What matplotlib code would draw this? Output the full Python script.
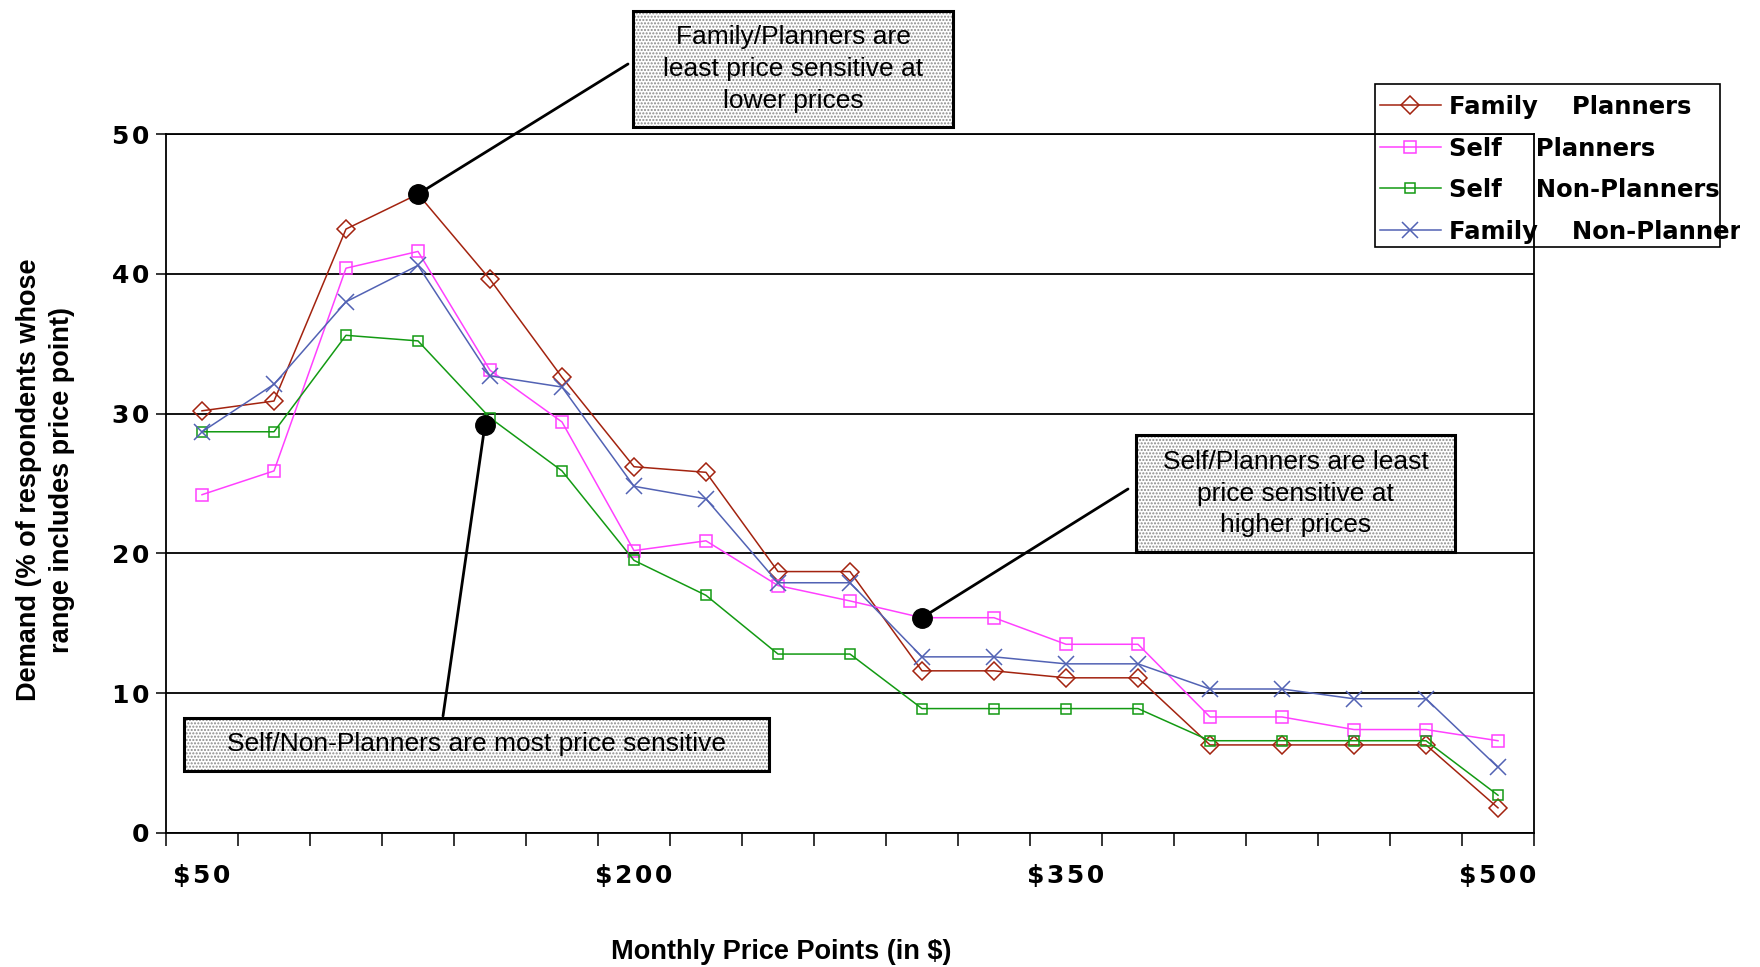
import matplotlib
matplotlib.use('Agg')
import matplotlib.pyplot as plt
from matplotlib.patches import Rectangle
from matplotlib.transforms import Bbox
import numpy as np

# monthly price points, $50 to $500 in $25 steps
prices = ['$50', '$75', '$100', '$125', '$150', '$175', '$200', '$225', '$250', '$275',
          '$300', '$325', '$350', '$375', '$400', '$425', '$450', '$475', '$500']
shown = ['$50', '$200', '$350', '$500']

# demand, % of respondents whose range includes the price point
family_planners = [30.2, 30.9, 43.2, 45.7, 39.6, 32.6, 26.2, 25.8, 18.7, 18.7,
                   11.6, 11.6, 11.1, 11.1, 6.3, 6.3, 6.3, 6.3, 1.8]
self_planners = [24.2, 25.9, 40.4, 41.6, 33.1, 29.4, 20.2, 20.9, 17.7, 16.6,
                 15.4, 15.4, 13.5, 13.5, 8.3, 8.3, 7.4, 7.4, 6.6]
self_non_planners = [28.7, 28.7, 35.6, 35.2, 29.7, 25.9, 19.5, 17.0, 12.8, 12.8,
                     8.9, 8.9, 8.9, 8.9, 6.6, 6.6, 6.6, 6.6, 2.7]
family_non_planners = [28.7, 32.1, 38.0, 40.6, 32.7, 31.9, 24.8, 23.9, 17.9, 17.9,
                       12.6, 12.6, 12.1, 12.1, 10.3, 10.3, 9.6, 9.6, 4.7]

W, H = 1760, 967
HAIR = '\u200a'


def fig_xy(x, y):
    return x / W, 1 - y / H


def spaced(s):
    return HAIR.join(s)


fig = plt.figure(figsize=(W / 100, H / 100), dpi=100)
ax = fig.add_axes([166 / W, 1 - 833 / H, (1534 - 166) / W, (833 - 134) / H])

x = np.arange(len(prices))
ax.plot(x, family_planners, color='#a3230f', lw=1.1, marker='D', ms=9.5, mfc='none',
        mec='#a3230f', mew=1.1, label='Family    Planners', zorder=3)
ax.plot(x, self_planners, color='#ff40ff', lw=1.1, marker='s', ms=9, mfc='none',
        mec='#ff40ff', mew=1.1, label='Self    Planners', zorder=3)
ax.plot(x, self_non_planners, color='#139a13', lw=1.1, marker='s', ms=6.5, mfc='none',
        mec='#139a13', mew=1.1, label='Self    Non-Planners', zorder=3)
ax.plot(x, family_non_planners, color='#5262b4', lw=1.1, marker='x', ms=11,
        mew=1.1, label='Family    Non-Planners', zorder=3)

ax.set_xlim(-0.5, len(prices) - 0.5)
ax.set_ylim(0, 50)
yt = list(range(0, 51, 10))
ax.set_yticks(yt)
ax.set_yticklabels([spaced(str(v)) for v in yt])
ax.yaxis.grid(True, color='black', lw=1.3)
ax.set_axisbelow(True)
for s in ax.spines.values():
    s.set_linewidth(1.3)

pos = [prices.index(p) for p in shown]
ax.set_xticks(pos)
ax.set_xticklabels([spaced(p).replace('$', '\\$') for p in shown])
ax.set_xticks(np.arange(-0.5, len(prices), 1), minor=True)
ax.tick_params(axis='x', which='major', length=0, pad=22)
ax.tick_params(axis='x', which='minor', length=9, width=1.1, direction='out')
ax.tick_params(axis='y', length=7, width=1.1, pad=5)
for lab in ax.get_xticklabels() + ax.get_yticklabels():
    lab.set_fontfamily('DejaVu Sans')
    lab.set_fontweight('bold')
    lab.set_fontsize(18)

fig.text(46 / W, 1 - 480 / H, 'Demand (% of respondents whose\nrange includes price point)',
         rotation=90, ha='center', va='center', fontsize=19.5, fontweight='bold',
         family='Liberation Sans', linespacing=1.35)
fig.text(781 / W, 1 - 952 / H, 'Monthly Price Points (in \\$)', ha='center', va='center',
         fontsize=19.5, fontweight='bold', family='Liberation Sans')

# legend without its own frame; frame drawn as a fixed box
leg = ax.legend(loc='upper left', bbox_to_anchor=fig_xy(1380, 95), bbox_transform=fig.transFigure,
                frameon=False, borderaxespad=0, borderpad=0, handlelength=2.5,
                handletextpad=0.35, labelspacing=0.72,
                prop={'family': 'DejaVu Sans', 'weight': 'bold', 'size': 17.5})
clip = Bbox.from_extents(0, 0, 1740, H)
for t in leg.get_texts():
    t.set_clip_box(clip)
    t.set_clip_on(True)
fig.patches.append(Rectangle(fig_xy(1375, 247), 345 / W, 163 / H, transform=fig.transFigure,
                             fill=False, ec='black', lw=1.2))

# callout boxes: (left, top, right, bottom) in pixels, text
boxes = [
    ((633, 11, 953, 127), 'Family/Planners are\nleast price sensitive at\nlower prices'),
    ((184, 718, 769, 771), 'Self/Non-Planners are most price sensitive'),
    ((1136, 435, 1455, 552), 'Self/Planners are least\nprice sensitive at\nhigher prices'),
]
for (l, t, r, b), txt in boxes:
    fig.patches.append(Rectangle(fig_xy(l, b), (r - l) / W, (b - t) / H, transform=fig.transFigure,
                                 fc='white', ec='#8a8a8a', hatch='.....', lw=0, zorder=5))
    fig.patches.append(Rectangle(fig_xy(l, b), (r - l) / W, (b - t) / H, transform=fig.transFigure,
                                 fill=False, ec='black', lw=2.2, zorder=6))
    fig.text((l + r) / 2 / W, 1 - (t + b) / 2 / H, txt, ha='center', va='center', fontsize=19,
             family='Liberation Sans', linespacing=1.42, zorder=7)

# dots and leader lines
callouts = [
    ((3, family_planners[3]), (628, 64)),
    ((3.93, 29.2), (443, 716)),
    ((10, self_planners[10]), (1128, 489)),
]
for (dx, dy), end in callouts:
    ax.plot(dx, dy, 'o', color='black', ms=14, zorder=6, clip_on=False)
    ax.annotate('', xy=(dx, dy), xycoords='data', xytext=fig_xy(*end), textcoords='figure fraction',
                arrowprops=dict(arrowstyle='-', lw=2, color='black', shrinkA=0, shrinkB=0),
                annotation_clip=False)

fig.savefig('out.png', dpi=100)
